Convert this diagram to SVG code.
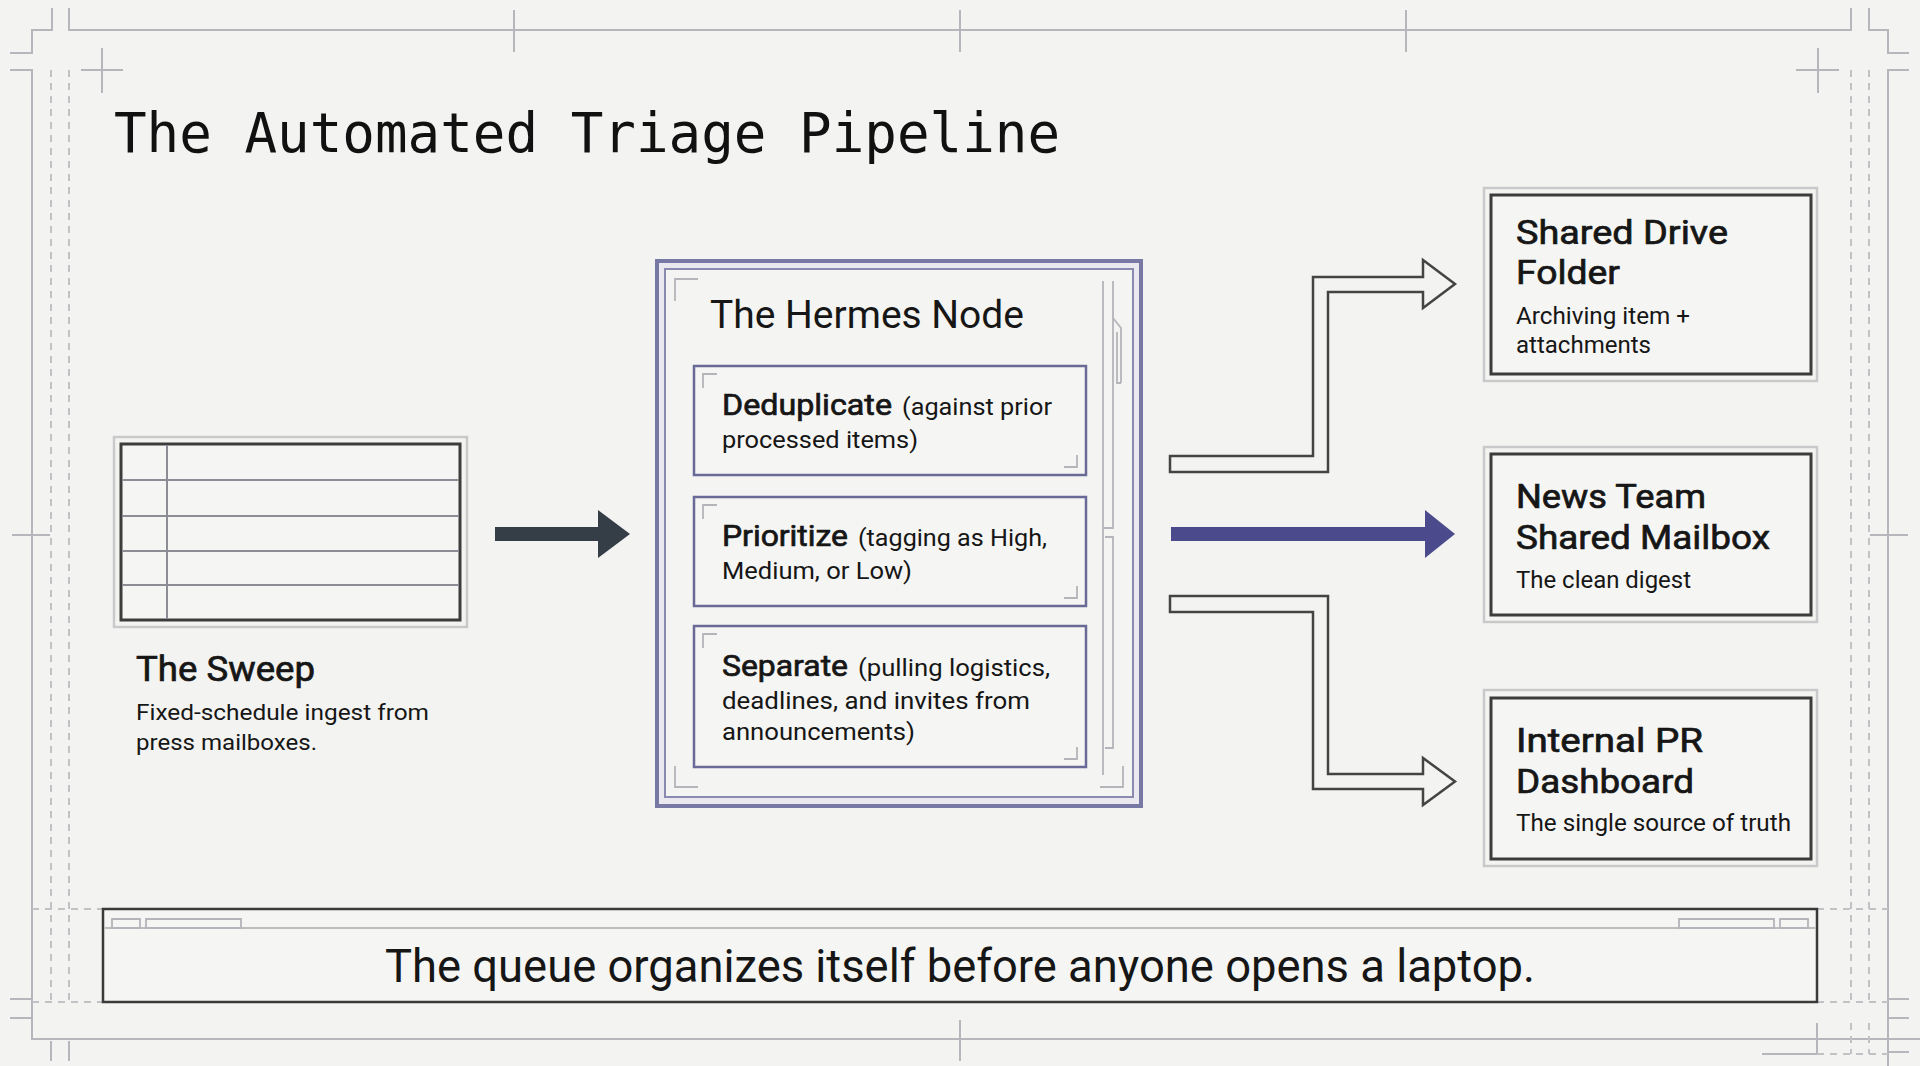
<svg xmlns="http://www.w3.org/2000/svg" width="1920" height="1066" viewBox="0 0 1920 1066">
<style>
.frame{fill:none;stroke:#b6b6bc;stroke-width:2}
.dash{fill:none;stroke:#c2c2c6;stroke-width:2;stroke-dasharray:7 6}
.lite{fill:none;stroke:#c9c9cc;stroke-width:2.5}
.dark{fill:#f5f5f3;stroke:#3c3c3c;stroke-width:3}
.grid{fill:none;stroke:#8c8c94;stroke-width:2}
.brk{fill:none;stroke:#b4b4ba;stroke-width:1.8}
.sub{fill:#f5f5f3;stroke:#6a6a96;stroke-width:2.5}
.hollow{fill:#f3f3f1;stroke:#444;stroke-width:2.5;stroke-linejoin:miter}
.t{font-family:Roboto,"Liberation Sans",sans-serif;fill:#161616}
.h{font-weight:400;stroke:#161616;stroke-width:0.7}
.mono{font-family:"DejaVu Sans Mono","Liberation Mono",monospace;fill:#111}
</style>
<rect width="1920" height="1066" fill="#f3f3f1"/>

<g id="frame">
<path class="frame" d="M69,8 V30 H1851 V8 M514,10 V52 M960,10 V52 M1406,10 V52 M52,8 V30 H32 V53 H10 M10,70 H32 V1039 H1920 M1869,8 V30 H1888 V53 H1909 M1909,70 H1888 V1066 M81,70 H123 M102,48 V93 M1796,70 H1839 M1818,48 V93 M12,535 H50 M1870,535 H1908 M10,999 H32 M10,1018 H32 M1888,999 H1909 M1888,1018 H1909 M1888,1052 H1909 M51,1041 V1061 M69,1041 V1061 M960,1020 V1061 M1817,1023 V1054 H1762"/>
<path class="dash" d="M51,70 V1002 M69,70 V1002 M1851,70 V1002 M1869,70 V1002 M32,909 H103 M32,1002 H103 M1817,909 H1888 M1817,1002 H1888 M1851,1023 V1054 M1869,1023 V1054 M1817,1054 H1888"/>
</g>

<text class="mono" x="114" y="152" font-size="56" textLength="946" lengthAdjust="spacingAndGlyphs">The Automated Triage Pipeline</text>

<g id="connectors">
<path d="M495,527 H598 V510 L630,534 L598,558 V541 H495 Z" fill="#353d46"/>
<path d="M1171,527 H1425 V510 L1455,534 L1425,558 V541 H1171 Z" fill="#4a4a8c"/>
<path class="hollow" d="M1170,456 H1313 V277 H1423 V260 L1455,284 L1423,308 V292 H1328 V472 H1170 Z"/>
<path class="hollow" d="M1170,596 H1328 V774 H1423 V758 L1455,781.5 L1423,805 V789 H1313 V612 H1170 Z"/>
</g>

<g id="sweep">
<rect class="lite" x="114" y="437" width="353" height="190"/>
<rect class="dark" x="121" y="444" width="339" height="176"/>
<path class="grid" d="M167,445 V619 M122,480 H459 M122,516 H459 M122,551 H459 M122,585 H459"/>
<text class="t h" x="136" y="681" font-size="35" textLength="179" lengthAdjust="spacingAndGlyphs">The Sweep</text>
<text class="t" x="136" y="720" font-size="22.5" textLength="293" lengthAdjust="spacingAndGlyphs">Fixed-schedule ingest from</text>
<text class="t" x="136" y="750" font-size="22.5" textLength="181" lengthAdjust="spacingAndGlyphs">press mailboxes.</text>
</g>

<g id="hermes">
<rect x="657" y="261" width="484" height="545" fill="#e9e9ef" stroke="#7878a4" stroke-width="4"/>
<rect x="665" y="269" width="468" height="528" fill="#f4f4f2" stroke="#8a8ab0" stroke-width="2"/>
<path class="brk" d="M698,279 H675 V301 M675,766 V787 H698 M1100,787 H1123 V766 M1103,281 V775 M1103,528 H1113 V281 M1105,537 H1113 V748 H1105 M1113,318 L1121,328 V383 M1117,332 V383 H1121"/>
<text class="t" x="710" y="328" font-size="38" textLength="314" lengthAdjust="spacingAndGlyphs">The Hermes Node</text>
</g>

<g id="dedupe">
<rect class="sub" x="694" y="366" width="392" height="109"/>
<path class="brk" d="M717,374 H703 V388 M1064,467 H1077 V455"/>
<text class="t h" x="722" y="415" font-size="30" textLength="170" lengthAdjust="spacingAndGlyphs">Deduplicate</text>
<text class="t" x="902" y="415" font-size="24.5" textLength="150" lengthAdjust="spacingAndGlyphs">(against prior</text>
<text class="t" x="722" y="448" font-size="24.5" textLength="196" lengthAdjust="spacingAndGlyphs">processed items)</text>
</g>

<g id="prioritize">
<rect class="sub" x="694" y="497" width="392" height="109"/>
<path class="brk" d="M717,505 H703 V519 M1064,598 H1077 V586"/>
<text class="t h" x="722" y="546" font-size="30" textLength="126" lengthAdjust="spacingAndGlyphs">Prioritize</text>
<text class="t" x="858" y="546" font-size="24.5" textLength="189" lengthAdjust="spacingAndGlyphs">(tagging as High,</text>
<text class="t" x="722" y="579" font-size="24.5" textLength="190" lengthAdjust="spacingAndGlyphs">Medium, or Low)</text>
</g>

<g id="separate">
<rect class="sub" x="694" y="626" width="392" height="141"/>
<path class="brk" d="M717,634 H703 V648 M1064,759 H1077 V747"/>
<text class="t h" x="722" y="676" font-size="30" textLength="126" lengthAdjust="spacingAndGlyphs">Separate</text>
<text class="t" x="858" y="676" font-size="24.5" textLength="192" lengthAdjust="spacingAndGlyphs">(pulling logistics,</text>
<text class="t" x="722" y="709" font-size="24.5" textLength="308" lengthAdjust="spacingAndGlyphs">deadlines, and invites from</text>
<text class="t" x="722" y="740" font-size="24.5" textLength="193" lengthAdjust="spacingAndGlyphs">announcements)</text>
</g>

<g id="shared-drive">
<rect class="lite" x="1484" y="188" width="333" height="193"/>
<rect class="dark" x="1491" y="195" width="320" height="179"/>
<text class="t h" x="1516" y="244" font-size="34" textLength="212" lengthAdjust="spacingAndGlyphs">Shared Drive</text>
<text class="t h" x="1516" y="284" font-size="34" textLength="104" lengthAdjust="spacingAndGlyphs">Folder</text>
<text class="t" x="1516" y="324" font-size="23" textLength="174" lengthAdjust="spacingAndGlyphs">Archiving item +</text>
<text class="t" x="1516" y="353" font-size="23" textLength="135" lengthAdjust="spacingAndGlyphs">attachments</text>
</g>

<g id="news-team">
<rect class="lite" x="1484" y="447" width="333" height="175"/>
<rect class="dark" x="1491" y="454" width="320" height="161"/>
<text class="t h" x="1516" y="508" font-size="34" textLength="190" lengthAdjust="spacingAndGlyphs">News Team</text>
<text class="t h" x="1516" y="549" font-size="34" textLength="254" lengthAdjust="spacingAndGlyphs">Shared Mailbox</text>
<text class="t" x="1516" y="588" font-size="23" textLength="175" lengthAdjust="spacingAndGlyphs">The clean digest</text>
</g>

<g id="pr-dashboard">
<rect class="lite" x="1484" y="690" width="333" height="176"/>
<rect class="dark" x="1491" y="698" width="320" height="161"/>
<text class="t h" x="1516" y="752" font-size="34" textLength="187" lengthAdjust="spacingAndGlyphs">Internal PR</text>
<text class="t h" x="1516" y="793" font-size="34" textLength="178" lengthAdjust="spacingAndGlyphs">Dashboard</text>
<text class="t" x="1516" y="831" font-size="23" textLength="275" lengthAdjust="spacingAndGlyphs">The single source of truth</text>
</g>

<g id="banner">
<rect x="103" y="909" width="1714" height="93" fill="#f5f5f3" stroke="#3a3a3a" stroke-width="2.5"/>
<path d="M104,928 H1816" fill="none" stroke="#bdbdc0" stroke-width="2"/>
<path class="brk" d="M112,919 H140 V928 H112 Z M146,919 H241 V928 H146 Z M1679,919 H1774 V928 H1679 Z M1780,919 H1808 V928 H1780 Z"/>
<text class="t" x="960" y="982" font-size="46" text-anchor="middle" textLength="1150" lengthAdjust="spacingAndGlyphs">The queue organizes itself before anyone opens a laptop.</text>
</g>
</svg>
